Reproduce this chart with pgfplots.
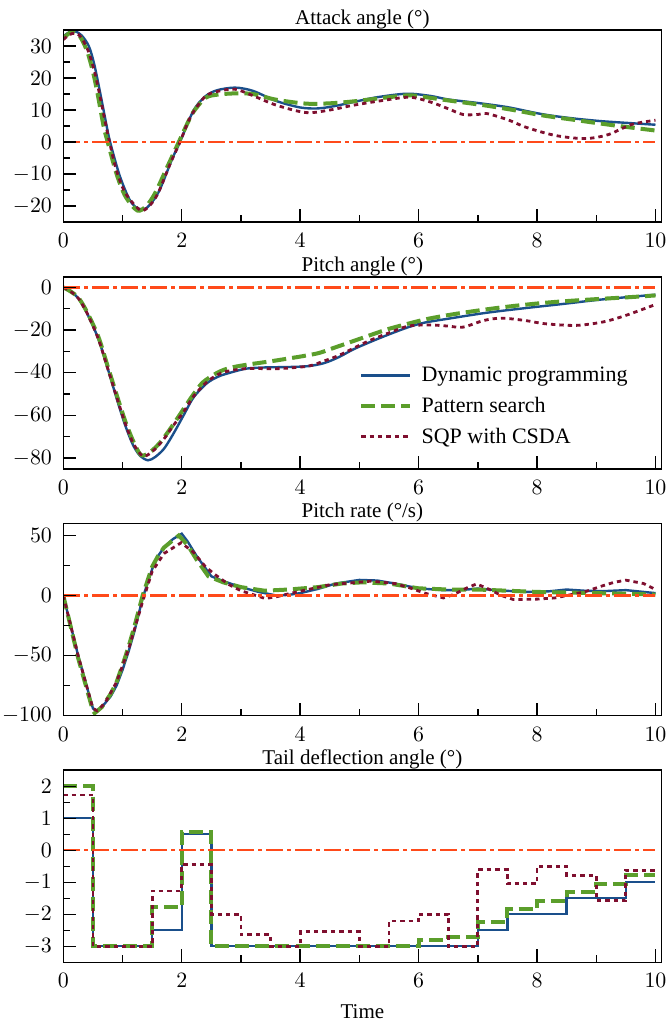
\documentclass[border=0pt]{standalone}
\usepackage{fontspec}
\setmainfont{Liberation Serif}
\usepackage{pgfplots}
\pgfplotsset{compat=1.18}
\usepgfplotslibrary{groupplots}

\definecolor{dpblue}{HTML}{1A4F8B}
\definecolor{psgreen}{HTML}{5B9E2B}
\definecolor{sqpred}{HTML}{7F0F2F}
\definecolor{refor}{HTML}{FF4A1A}

\pgfplotsset{
  dp/.style={color=dpblue, line width=1.2pt},
  ps/.style={color=psgreen, line width=2pt, dash pattern=on 7pt off 3pt},
  sqp/.style={color=sqpred, line width=1.4pt, dash pattern=on 2.2pt off 2pt},
  ref/.style={color=refor, line width=1.1pt, dash pattern=on 8.5pt off 2pt on 2pt off 2pt},
}

\begin{document}
\begin{tikzpicture}[font=\fontsize{10.5}{12.5}\selectfont]
\begin{groupplot}[
  group style={group size=1 by 4, vertical sep=27.35pt},
  scale only axis, width=299pt, height=96pt,
  xmin=0, xmax=10.1, xtick={0,2,...,10},
  minor x tick num=1, minor y tick num=1,
  tick align=inside, tick pos=left,
  major tick length=6.5pt, minor tick length=3.5pt,
  every tick/.style={black, line width=0.7pt},
  axis line style={line width=0.8pt},
  axis on top,
  every axis title shift=0pt,
  title style={at={(0.5,1)}, anchor=base, yshift=2.8pt, inner sep=1pt},
  xticklabel style={inner sep=1pt, yshift=-4.5pt},
  yticklabel style={inner sep=1pt, xshift=-4.5pt},
  xlabel style={inner sep=1pt, yshift=-6pt},
  legend image code/.code={\draw[#1] (0cm,0cm) -- (0.85cm,0cm); \path (0.85cm+3pt,0cm);},
]

% attack angle
\nextgroupplot[title={Attack angle (°)}, ymin=-25, ymax=35, ytick={-20,-10,...,30}]
\addplot[dp, smooth] coordinates {
(0,33)(0.1,34.3)(0.2,34.6)(0.31,33.3)(0.43,30)(0.52,24.5)(0.62,15.6)(0.73,5.2)(0.79,0)
(0.95,-10.4)(1.11,-17.7)(1.22,-20.3)(1.32,-21)(1.42,-20.4)(1.61,-15.6)(1.84,-5.2)(1.97,0)
(2.2,9.9)(2.4,14.3)(2.6,16.2)(2.9,17)(3.2,16)(3.6,12.8)(4.0,10.8)(4.3,10.5)(4.6,11.3)
(4.9,12.5)(5.3,14)(5.8,15.1)(6.2,14.4)(6.5,13.3)(7.0,12.2)(7.5,10.9)(8.0,9)(8.3,8.1)
(8.7,7.2)(9.1,6.5)(9.5,6)(10,5.4)
};
\addplot[ps, smooth] coordinates {
(0,32.5)(0.1,34)(0.17,34.5)(0.28,33)(0.4,28.5)(0.5,22)(0.58,15)(0.68,5)(0.75,0)(0.9,-10)(1.05,-17)
(1.25,-21.4)(1.4,-20)(1.55,-16)(1.75,-8)(1.95,0)(2.1,6)(2.2,9.5)(2.4,13.8)(2.6,14.8)
(2.9,15.2)(3.2,15)(3.6,13.2)(4.1,12)(4.5,12.1)(4.9,12.7)(5.4,13.8)(5.85,14.6)(6.2,13.8)
(6.5,13)(7.1,11.5)(7.6,10)(8.1,8.3)(8.6,7)(9.1,5.7)(9.6,4.5)(10,3.6)
};
\addplot[sqp, smooth] coordinates {
(0,32)(0.1,33.5)(0.2,34)(0.3,32.8)(0.42,28.5)(0.52,22.5)(0.6,16)(0.7,7)(0.78,0)(0.9,-9)(1.05,-16)
(1.3,-21.3)(1.45,-20)(1.6,-16)(1.8,-7)(1.97,0)(2.1,6)(2.2,9.5)(2.4,14.3)(2.6,15.8)
(2.9,16.5)(3.2,14.5)(3.6,11.5)(4.1,9.2)(4.5,10)(4.9,11.5)(5.4,13)(5.85,14)(6.2,12.5)
(6.5,10.4)(6.75,8.6)(7.0,8.6)(7.15,8.9)(7.5,7)(7.8,4.7)(8.2,2.5)(8.5,1.5)(8.85,1.1)
(9.2,2.3)(9.6,5.5)(10,6.8)
};
\addplot[ref] coordinates {(0,0)(10,0)};

% pitch angle
\nextgroupplot[title={Pitch angle (°)}, ymin=-85, ymax=5, ytick={-80,-60,...,0},
  legend cell align=left,
  legend style={at={(0.484,0.075)}, anchor=south west, draw=none, fill=none,
    row sep=2.3pt, font=\fontsize{11}{13}\selectfont}]
\addplot[dp, smooth] coordinates {
(0,0)(0.13,-2)(0.26,-5.3)(0.4,-12)(0.59,-24)(0.75,-38)(0.92,-53.8)(1.05,-65)(1.18,-74)
(1.3,-79)(1.43,-81)(1.55,-79.5)(1.7,-75.6)(1.85,-69)(2.03,-60)(2.2,-51.5)(2.42,-45)
(2.6,-42)(2.75,-40.5)(3.08,-38.1)(3.4,-37.5)(3.8,-37.3)(4.13,-36.9)(4.4,-35.5)(4.65,-32.7)
(4.9,-29)(5.18,-25.6)(5.5,-22)(5.83,-18.6)(6.1,-16.5)(6.49,-14.7)(7.14,-11.9)(7.8,-9.7)
(8.45,-7.7)(9.11,-5.6)(10,-3.4)
};
\addplot[ps, smooth] coordinates {
(0,0)(0.13,-2)(0.26,-5)(0.4,-11.5)(0.59,-23)(0.75,-37)(0.92,-52)(1.05,-63)(1.18,-72)
(1.31,-78.5)(1.45,-77.5)(1.64,-72.5)(1.85,-64.5)(2.03,-57)(2.2,-50)(2.36,-44.4)(2.6,-40)
(2.8,-37.8)(3.08,-36.3)(3.6,-34.2)(4.26,-31.1)(4.55,-28.5)(4.85,-25.6)(5.2,-22.2)
(5.5,-19.4)(5.85,-16.8)(6.16,-14.7)(6.6,-12.5)(7.14,-10.3)(7.6,-8.7)(8.13,-7.2)(8.6,-6.2)
(9.11,-5.3)(9.6,-4.5)(10,-3.75)
};
\addplot[sqp, smooth] coordinates {
(0,0)(0.13,-2)(0.26,-5.3)(0.4,-12)(0.59,-24)(0.75,-38)(0.92,-53)(1.05,-64)(1.18,-73)
(1.34,-79)(1.5,-77)(1.7,-71)(1.85,-65)(2.03,-58.4)(2.2,-51)(2.42,-44.4)(2.6,-41)
(2.75,-39.4)(3.1,-38)(3.6,-38.1)(4.13,-36.9)(4.4,-34.5)(4.65,-31.9)(4.9,-28.5)(5.18,-24.8)
(5.5,-21.3)(5.83,-18.1)(6.2,-17.6)(6.49,-18.1)(6.75,-18.6)(7.1,-15.5)(7.4,-14.4)(7.8,-15.5)
(8.13,-17)(8.65,-17.8)(9.11,-16.2)(9.5,-13.1)(10,-8)
};
\addplot[ref, forget plot] coordinates {(0,0)(10,0)};
\legend{Dynamic programming, Pattern search, SQP with CSDA}

% pitch rate
\nextgroupplot[title={Pitch rate (°/s)}, ymin=-100, ymax=60, ytick={-100,-50,0,50}]
\addplot[dp] coordinates {
(0,0)(0.25,-50)(0.5,-94)(0.55,-96)(0.65,-93)(0.8,-84)(0.9,-75)(1.0,-62)(1.1,-47)(1.2,-30)
(1.34,-2)(1.5,22)(1.6,33)(1.7,40)(1.85,47)(2.0,51.5)(2.1,45)(2.25,33)(2.5,16)(2.7,12)
(3.0,7)(3.3,3)(3.6,0)(3.8,0.5)(4.0,2)(4.3,5.5)(4.6,10)(5.0,13)(5.3,12.5)(5.6,10)(6.0,6)
(6.4,4.5)(6.7,4.5)(7.0,5.8)(7.3,4.5)(7.8,3)(8.2,3.5)(8.5,5)(8.8,4)(9.1,3.6)(9.5,4.5)(10,2)
};
\addplot[ps] coordinates {
(0,0)(0.25,-52)(0.5,-96)(0.53,-98)(0.65,-93)(0.8,-82)(0.9,-72)(1.0,-58)(1.1,-43)(1.2,-26)
(1.34,0)(1.5,24)(1.6,33)(1.7,40)(1.95,50)(2.1,42)(2.25,30)(2.45,16)(2.7,11)(3.0,7)
(3.4,4)(3.8,5)(4.3,7)(4.7,10)(5.05,11)(5.5,10)(6.0,6)(6.5,5)(7.0,5)(7.5,4)(8.0,3)
(8.5,2.5)(9.0,2)(9.5,1.5)(10,0.8)
};
\addplot[sqp] coordinates {
(0,0)(0.25,-50)(0.5,-94)(0.57,-96)(0.7,-90)(0.9,-72)(1.1,-45)(1.34,-5)(1.5,20)(1.7,35)
(1.99,44)(2.2,36)(2.4,24)(2.56,17.5)(2.8,9)(3.0,4)(3.41,-2.5)(3.6,-1)(3.9,2.5)(4.5,9)
(5.2,12)(5.6,10)(5.85,6.4)(6.1,2)(6.42,-2)(6.6,1)(6.8,6)(6.98,9.7)(7.2,5)(7.4,0)(7.6,-3.3)
(8.0,-3)(8.3,-2)(8.8,3)(9.1,8)(9.3,11)(9.5,12.8)(9.8,10)(10,5)
};
\addplot[ref] coordinates {(0,0)(10,0)};

% tail deflection angle
\nextgroupplot[title={Tail deflection angle (°)}, ymin=-3.5, ymax=2.5, ytick={-3,-2,...,2},
  xlabel={Time}]
\addplot[dp, const plot] coordinates {
(0,1)(0.5,-3)(1.5,-2.5)(2,0.5)(2.5,-3)(7,-2.5)(7.5,-2)(8.5,-1.5)(9.5,-1)(10,-1)
};
\addplot[ps, const plot] coordinates {
(0,2)(0.5,-3)(1.5,-1.78)(2,0.56)(2.5,-3)(6,-2.8)(6.5,-2.7)(7,-2.23)(7.5,-1.85)(8,-1.6)
(8.5,-1.29)(9,-1.04)(9.5,-0.77)(10,-0.77)
};
\addplot[sqp, const plot] coordinates {
(0,1.73)(0.5,-3)(1.5,-1.27)(2,-0.45)(2.5,-2)(3,-2.64)(3.5,-3)(4,-2.55)(5,-3)(5.5,-2.21)
(6,-2)(6.5,-3)(7,-0.61)(7.5,-1.05)(8,-0.5)(8.5,-0.79)(9,-1.58)(9.5,-0.62)(10,-0.62)
};
\addplot[ref] coordinates {(0,0)(10,0)};
\end{groupplot}
\pgfresetboundingbox
\path ([xshift=-31.65pt,yshift=15pt]group c1r1.north west) rectangle
      ([xshift=3.15pt,yshift=-29.35pt]group c1r4.south east);
\end{tikzpicture}
\end{document}
